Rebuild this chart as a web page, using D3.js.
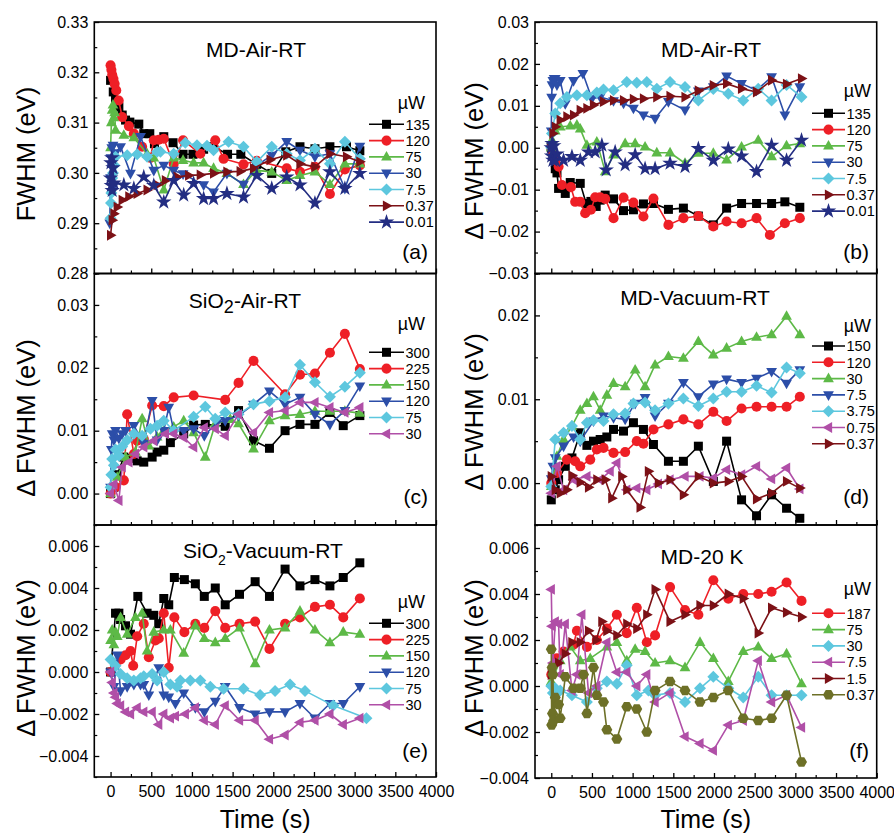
<!DOCTYPE html>
<html>
<head>
<meta charset="utf-8">
<script src="https://cdnjs.cloudflare.com/ajax/libs/d3/7.8.5/d3.min.js"></script>
<style>
  body { margin: 0; background: #fff; }
  svg { display: block; font-family: Arial, "Liberation Sans", sans-serif; }
</style>
</head>
<body>
<svg id="chart" width="894" height="835"></svg>
<script>
// ---------------- data (time s, value eV) ----------------
const timeTicks = [0, 500, 1000, 1500, 2000, 2500, 3000, 3500, 4000];

// (a) MD-Air-RT, FWHM
const a135 = [[0,.3184],[33,.3161],[61,.3144],[102,.3131],[143,.3115],[184,.3105],[237,.3101],[347,.3097],[408,.3078],[482,.3078],[539,.3058],[654,.3072],[768,.306],[891,.3037],[1013,.3037],[1144,.3047],[1266,.3052],[1438,.3037],[1601,.3037],[1797,.3017],[1981,.2999],[2153,.3042],[2328,.3052],[2512,.3048],[2696,.3052],[2900,.3052],[3064,.3044]];
const a120 = [[0,.3214],[10,.3205],[20,.3195],[35,.3187],[50,.3177],[70,.3164],[100,.3144],[143,.3111],[225,.3093],[286,.3078],[388,.3052],[490,.3030],[531,.3065],[592,.3066],[654,.3068],[776,.3018],[891,.3065],[1103,.3038],[1287,.3065],[1389,.3028],[1634,.3017],[1797,.3024],[2165,.3009],[2328,.3002],[2512,.3012],[2696,.2958],[2880,.3007],[3064,.3015]];
const a75 = [[0,.3050],[10,.3100],[20,.3125],[30,.3135],[40,.3110],[50,.3120],[61,.3085],[163,.3075],[286,.3070],[449,.3038],[531,.3030],[654,.2966],[776,.3030],[891,.3025],[1021,.3020],[1144,.3020],[1266,.3009],[1430,.2999],[1634,.2977],[1797,.3005],[1981,.3002],[2165,.2985],[2328,.2995],[2512,.3002],[2696,.2977],[2880,.3018],[3064,.3018]];
const a30 = [[-10,.2900],[0,.2990],[5,.3030],[10,.2985],[15,.3050],[20,.3010],[30,.3055],[40,.2975],[61,.3040],[123,.3052],[245,.2999],[368,.3072],[531,.3005],[654,.3015],[776,.3005],[891,.2998],[1144,.2976],[1266,.2962],[1430,.2999],[1634,.2977],[1797,.3015],[1981,.3035],[2165,.3062],[2328,.3045],[2512,.3032],[2696,.3038],[2880,.2969],[3064,.3053]];
const a7_5 = [[0,.2910],[5,.2940],[10,.2960],[20,.2990],[30,.3000],[45,.3015],[61,.3032],[204,.3035],[327,.3037],[449,.3032],[572,.3042],[613,.3042],[776,.3038],[919,.3060],[1062,.3055],[1185,.3054],[1266,.3045],[1450,.3062],[1634,.3052],[1797,.3022],[1981,.3052],[2165,.3038],[2328,.3025],[2512,.3048],[2696,.3018],[2880,.3062],[3064,.3028]];
const a0_37 = [[0,.2876],[20,.2906],[41,.2919],[82,.2932],[143,.2946],[225,.2953],[327,.2959],[449,.2966],[572,.2976],[674,.2985],[817,.2992],[960,.2995],[1103,.2996],[1266,.2999],[1430,.3002],[1593,.3003],[1757,.3009],[1961,.3026],[2165,.3035],[2328,.3018],[2512,.3012],[2696,.3038],[2900,.3032],[3064,.3022]];
const a0_01 = [[0,.2990],[5,.3020],[10,.2975],[15,.3030],[20,.2965],[30,.3010],[41,.2980],[163,.2976],[286,.2969],[408,.2992],[531,.2975],[654,.2942],[776,.2985],[899,.2956],[1021,.2979],[1144,.2949],[1266,.2949],[1430,.2959],[1634,.2952],[1797,.2995],[1981,.2969],[2165,.2992],[2328,.2976],[2512,.2940],[2696,.3002],[2880,.2969],[3064,.2999]];

// (b) MD-Air-RT, delta FWHM
const b135 = [[0,0],[20,-.0020],[49,-.0050],[70,-.0060],[90,-.0097],[131,-.0095],[172,-.0109],[233,-.0083],[356,-.0085],[429,-.0133],[487,-.0128],[552,-.0140],[601,-.0125],[663,-.0113],[765,-.0122],[888,-.0150],[1010,-.0148],[1133,-.0134],[1256,-.0133],[1440,-.0147],[1624,-.0144],[1808,-.0163],[1992,-.0184],[2155,-.0144],[2339,-.0133],[2523,-.0133],[2708,-.0133],[2871,-.0129],[3055,-.0142]];
const b120 = [[0,0],[20,-.0010],[49,-.0030],[90,-.0045],[131,-.0089],[241,-.0094],[294,-.0129],[356,-.0129],[417,-.0156],[487,-.0148],[540,-.0118],[601,-.0118],[663,-.0122],[765,-.0168],[888,-.0119],[1010,-.0131],[1133,-.0164],[1256,-.0121],[1440,-.0184],[1624,-.0168],[1808,-.0163],[1992,-.0188],[2155,-.0176],[2339,-.0180],[2523,-.0168],[2687,-.0208],[2871,-.0180],[3055,-.0168]];
const b75 = [[0,0],[8,.0018],[49,.0040],[110,.0050],[233,.0052],[315,.0054],[356,.0045],[438,.0006],[560,.0014],[663,-.0057],[765,-.0017],[908,.0010],[1031,.0010],[1153,.0002],[1297,-.0012],[1460,-.0012],[1644,-.0037],[1808,-.0013],[1992,-.0013],[2155,-.0029],[2339,.0002],[2544,.0018],[2708,-.0021],[2892,.0005],[3055,.0010]];
const b30 = [[0,.0040],[5,.0120],[10,.0150],[20,.0160],[35,.0165],[49,.0165],[70,.0150],[110,.0160],[172,.0105],[274,.0160],[389,.0177],[499,.0117],[601,.0121],[765,.0112],[888,.0106],[1010,.0094],[1133,.0078],[1276,.0070],[1440,.0110],[1644,.0090],[1808,.0135],[1992,.0145],[2155,.0171],[2339,.0153],[2523,.0137],[2708,.0169],[2871,.0078],[3055,.0145]];
const b7_5 = [[0,0],[8,.0034],[49,.0082],[110,.0106],[192,.0121],[315,.0125],[438,.0125],[560,.0132],[642,.0139],[765,.0137],[928,.0157],[1051,.0155],[1174,.0157],[1297,.0141],[1460,.0157],[1644,.0145],[1808,.0113],[1992,.0140],[2176,.0129],[2360,.0113],[2544,.0141],[2708,.0113],[2892,.0150],[3076,.0121]];
const b0_37 = [[0,0],[20,.0034],[49,.0050],[110,.0066],[192,.0074],[274,.0078],[356,.0090],[438,.0094],[519,.0102],[642,.0110],[765,.0113],[888,.0113],[1010,.0116],[1133,.0117],[1297,.0121],[1460,.0123],[1644,.0121],[1808,.0136],[1992,.0149],[2155,.0153],[2339,.0141],[2523,.0133],[2708,.0161],[2892,.0152],[3076,.0165]];
const b0_01 = [[0,0],[5,-.0020],[10,.0010],[20,-.0030],[30,.0005],[49,-.0030],[70,-.0015],[151,-.0030],[254,-.0021],[356,-.0030],[458,-.0010],[540,-.0010],[622,.0006],[675,-.0053],[785,-.0010],[908,-.0041],[1031,-.0017],[1153,-.0050],[1276,-.0050],[1460,-.0037],[1644,-.0045],[1808,-.0002],[1992,-.0030],[2176,-.0003],[2339,-.0020],[2523,-.0057],[2708,.0006],[2892,-.0030],[3076,.0018]];

// (c) SiO2-Air-RT
const c300 = [[0,0],[41,.0010],[82,.0030],[163,.0058],[245,.0056],[327,.0052],[408,.0050],[511,.0058],[572,.0066],[654,.0069],[735,.0081],[899,.0095],[1021,.0109],[1164,.0110],[1409,.0107],[1573,.0132],[1757,.0084],[1953,.0072],[2145,.0100],[2328,.0110],[2512,.0110],[2696,.0129],[2860,.0108],[3064,.0124]];
const c225 = [[0,0],[61,.0010],[163,.0021],[204,.0126],[286,.0063],[327,.0084],[408,.0087],[511,.0140],[654,.0139],[776,.0153],[1021,.0156],[1409,.0149],[1573,.0176],[1757,.0211],[2145,.0158],[2328,.0189],[2512,.0191],[2696,.0224],[2880,.0254],[3064,.0198]];
const c150 = [[0,0],[82,.0026],[184,.0058],[306,.0066],[388,.0119],[470,.0076],[572,.0090],[654,.0100],[776,.0106],[899,.0116],[1021,.0097],[1164,.0058],[1287,.0111],[1471,.0118],[1573,.0111],[1757,.0071],[1953,.0116],[2145,.0124],[2328,.0126],[2512,.0131],[2696,.0131],[2880,.0131],[3064,.0128]];
const c120 = [[0,.0010],[10,.0070],[20,.0095],[41,.0085],[61,.0100],[102,.0088],[143,.0095],[184,.0100],[286,.0108],[408,.0080],[511,.0148],[572,.0085],[654,.0100],[715,.0137],[776,.0100],[899,.0100],[1021,.0103],[1152,.0092],[1307,.0113],[1409,.0116],[1573,.0124],[1757,.0142],[1953,.0163],[2145,.0142],[2328,.0153],[2512,.0126],[2696,.0110],[2880,.0132],[3064,.0171]];
const c75 = [[0,.0010],[10,.0030],[20,.0055],[41,.0045],[61,.0070],[102,.0060],[143,.0075],[204,.0085],[286,.0095],[388,.0092],[490,.0103],[572,.0108],[654,.0116],[776,.0100],[1021,.0122],[1164,.0138],[1287,.0119],[1409,.0129],[1573,.0126],[1757,.0142],[1953,.0147],[2145,.0153],[2328,.0205],[2512,.0177],[2696,.0154],[2880,.0170],[3064,.0192]];
const c30 = [[0,0],[41,.0015],[102,-.0011],[143,.0042],[225,.0050],[306,.0063],[408,.0074],[531,.0084],[674,.0095],[776,.0095],[899,.0089],[1021,.0074],[1152,.0105],[1287,.0103],[1409,.0092],[1573,.0126],[1757,.0097],[1953,.0129],[2145,.0132],[2328,.0145],[2512,.0145],[2696,.0137],[2880,.0129],[3064,.0137]];

// (d) MD-Vacuum-RT
const d150 = [[0,-.0020],[49,-.0008],[90,.0004],[172,.0020],[254,.0030],[356,.0060],[438,.0045],[519,.0050],[601,.0052],[683,.0055],[765,.0064],[888,.0062],[1010,.0072],[1133,.0064],[1256,.0046],[1440,.0026],[1624,.0026],[1808,.0044],[1992,.0002],[2155,.0050],[2339,-.0020],[2523,-.0039],[2708,-.0014],[2892,-.0030],[3055,-.0042]];
const d120 = [[0,0],[70,.0012],[192,.0028],[294,.0026],[356,.0020],[479,.0028],[560,.0040],[642,.0042],[765,.0036],[908,.0037],[1051,.0050],[1133,.0047],[1256,.0064],[1440,.0070],[1624,.0076],[1808,.0070],[1992,.0085],[2155,.0074],[2339,.0089],[2523,.0091],[2708,.0091],[2892,.0091],[3055,.0103]];
const d30 = [[0,-.0004],[70,.0032],[151,.0052],[254,.0068],[356,.0087],[438,.0095],[519,.0103],[601,.0087],[683,.0105],[765,.0119],[908,.0115],[1031,.0135],[1153,.0115],[1276,.0141],[1440,.0151],[1624,.0149],[1808,.0169],[1992,.0153],[2155,.0161],[2339,.0169],[2523,.0174],[2708,.0177],[2892,.0199],[3055,.0177]];
const d7_5 = [[0,.0005],[20,.0020],[49,.0030],[151,.0044],[274,.0055],[356,.0050],[519,.0074],[642,.0080],[765,.0078],[908,.0076],[1031,.0095],[1153,.0102],[1276,.0080],[1440,.0095],[1624,.0120],[1808,.0103],[1992,.0118],[2155,.0124],[2339,.0120],[2523,.0125],[2708,.0133],[2892,.0119],[3055,.0135]];
const d3_75 = [[0,-.0004],[49,.0052],[151,.0060],[254,.0068],[356,.0052],[438,.0072],[519,.0075],[642,.0074],[765,.0082],[908,.0083],[1010,.0095],[1153,.0096],[1276,.0087],[1440,.0095],[1624,.0101],[1808,.0092],[1992,.0101],[2155,.0109],[2339,.0109],[2523,.0116],[2708,.0108],[2892,.0138],[3055,.0131]];
const d0_75 = [[0,-.0012],[70,.0020],[151,-.0008],[274,.0004],[438,.0008],[601,.0004],[724,.0014],[806,.0024],[928,-.0008],[1051,-.0006],[1174,-.0008],[1317,-.0001],[1460,.0004],[1644,.0008],[1828,.0008],[1992,.0006],[2155,.0016],[2339,.0010],[2523,.0020],[2708,.0005],[2892,.0018],[3055,-.0007]];
const d0_37 = [[0,.0008],[49,-.0008],[110,-.0012],[192,-.0008],[254,.0009],[356,.0001],[458,-.0005],[560,.0004],[663,.0004],[744,-.0018],[867,.0008],[928,-.0008],[1092,-.0029],[1194,.0014],[1317,0],[1460,.0004],[1624,-.0014],[1808,.0008],[1992,0],[2176,.0002],[2339,.0008],[2523,-.0019],[2708,-.0012],[2892,.0002],[3055,-.0006]];

// (e) SiO2-Vacuum-RT
const e300 = [[0,0],[61,.0028],[102,.0028],[123,.0025],[184,.0022],[245,.0018],[335,.0036],[449,.0028],[531,.0027],[592,.0023],[654,.0035],[715,.0032],[784,.0045],[907,.0044],[1042,.0042],[1152,.0036],[1287,.0040],[1409,.0032],[1585,.0037],[1777,.0043],[1953,.0036],[2145,.0049],[2328,.0041],[2512,.0044],[2696,.0041],[2860,.0045],[3064,.0052]];
const e225 = [[0,0],[61,.0004],[123,.0006],[184,.0008],[245,.0010],[278,.0003],[327,.0017],[408,.0023],[470,.0007],[551,.0015],[592,.0016],[654,.0028],[715,.0002],[784,.0026],[907,.0019],[1042,.0023],[1152,.0021],[1287,.0029],[1409,.0021],[1585,.0023],[1777,.0024],[1953,.0011],[2145,.0023],[2328,.0026],[2512,.0031],[2696,.0032],[2860,.0026],[3064,.0035]];
const e150 = [[0,.0015],[20,.0020],[41,.0013],[61,.0019],[82,.0017],[123,.0026],[204,.0018],[306,.0026],[388,.0028],[449,.0010],[531,.0019],[654,.0020],[735,.0020],[899,.0009],[1042,.0022],[1152,.0016],[1287,.0014],[1409,.0016],[1585,.0021],[1777,.0004],[1953,.0020],[2145,.0021],[2328,.0029],[2512,.0020],[2696,.0014],[2860,.0019],[3064,.0018]];
const e120 = [[0,0],[41,-.0007],[82,.0008],[123,-.0009],[204,-.0007],[286,-.0006],[368,-.0006],[408,-.0006],[470,-.0011],[592,.0002],[654,-.0011],[715,-.0012],[797,-.0015],[899,-.0010],[1042,-.0017],[1152,-.0019],[1287,-.0014],[1409,-.0007],[1585,-.0017],[1777,-.0020],[1953,-.0019],[2145,-.0019],[2328,-.0015],[2512,-.0022],[2696,-.0015],[2860,-.0015],[3064,-.0007]];
const e75 = [[0,.0006],[61,.0003],[123,-.0001],[204,-.0003],[286,-.0004],[368,-.0003],[408,-.0002],[511,-.0001],[572,-.0004],[654,0],[735,-.0006],[817,-.0007],[858,-.0004],[980,-.0004],[1103,-.0004],[1226,-.0007],[1389,-.0008],[1634,-.0008],[1838,-.0011],[2022,-.0009],[2206,-.0006],[2390,-.0009],[2737,-.0016],[3145,-.0022]];
const e30 = [[0,0],[20,-.0005],[41,-.0010],[61,-.0012],[82,-.0015],[123,-.0016],[184,-.0019],[245,-.0020],[327,-.0017],[408,-.0019],[511,-.0019],[592,-.0025],[654,-.0020],[735,-.0022],[797,-.0021],[919,-.0020],[1042,-.0017],[1152,-.0023],[1287,-.0025],[1409,-.0016],[1585,-.0023],[1777,-.0023],[1953,-.0032],[2145,-.0030],[2328,-.0024],[2512,-.0023],[2696,-.0020],[2860,-.0025],[3064,-.0022]];

// (f) MD-20 K
const f187 = [[0,.0005],[70,.0012],[151,.0015],[274,.0018],[315,.0024],[438,.0017],[560,.0020],[683,.0025],[806,.0031],[928,.0023],[1051,.0034],[1174,.0019],[1276,.0022],[1460,.0043],[1644,.0033],[1808,.0031],[1992,.0046],[2176,.0038],[2360,.0040],[2544,.0040],[2708,.0041],[2892,.0045],[3076,.0037]];
const f75 = [[0,.0002],[110,.0011],[233,.0017],[356,.0011],[479,.0012],[683,.0017],[806,.0019],[928,.0011],[1031,.0016],[1153,.0015],[1276,.0010],[1460,.0011],[1644,.0008],[1828,.0019],[1992,.0012],[2176,.0002],[2360,.0015],[2544,.0017],[2708,.0012],[2892,.0014],[3076,.0001]];
const f30 = [[0,0],[20,-.0003],[49,-.0001],[110,-.0002],[254,-.0004],[438,-.0007],[560,-.0001],[683,.0002],[806,.0001],[928,.0009],[1051,-.0004],[1194,-.0002],[1276,-.0004],[1460,-.0003],[1644,-.0007],[1828,-.0001],[1992,.0004],[2176,-.0001],[2360,-.0005],[2544,.0004],[2708,-.0004],[2892,-.0004],[3076,-.0004]];
const f7_5 = [[0,.0042],[8,.0026],[20,.0010],[49,.0028],[90,.0027],[110,.0005],[172,.0027],[254,-.0002],[315,.0005],[376,.0031],[458,-.0003],[560,.0000],[683,.0019],[806,.0006],[928,.0006],[1051,.0000],[1174,.0005],[1276,-.0007],[1460,-.0003],[1644,-.0022],[1828,-.0025],[1992,-.0028],[2176,-.0017],[2360,-.0015],[2544,.0011],[2708,-.0007],[2892,-.0004],[3076,-.0018]];
const f1_5 = [[0,.0005],[90,.0010],[172,.0014],[254,.0019],[356,.0019],[458,.0024],[552,.0020],[622,.0028],[683,.0024],[806,.0022],[928,.0027],[1051,.0025],[1174,.0031],[1276,.0042],[1460,.0028],[1644,.0031],[1828,.0035],[1992,.0035],[2176,.0040],[2360,.0038],[2544,.0023],[2708,.0034],[2892,.0032],[3076,.0030]];
const f0_37 = [[0,.0016],[5,-.0017],[10,.0008],[15,-.0012],[20,.0005],[30,-.0015],[49,-.0005],[90,-.0008],[110,-.0014],[172,.0004],[274,-.0001],[356,-.0001],[397,.0005],[438,-.0012],[519,.0008],[560,-.0004],[642,-.0007],[683,-.0019],[806,-.0023],[928,-.0009],[1051,-.0010],[1174,-.0020],[1276,-.0002],[1460,.0002],[1644,-.0002],[1828,-.0007],[1992,-.0005],[2176,-.0002],[2360,-.0014],[2544,-.0015],[2708,-.0014],[2892,-.0004],[3076,-.0033]];

// legend labels (µW)
const legendA = ["135", "120", "75", "30", "7.5", "0.37", "0.01"];
const legendC = ["300", "225", "150", "120", "75", "30"];
const legendD = ["150", "120", "30", "7.5", "3.75", "0.75", "0.37"];
const legendF = ["187", "75", "30", "7.5", "1.5", "0.37"];

// y tick values
const yTicksA = [0.28, 0.29, 0.30, 0.31, 0.32, 0.33];
const yTicksB = [-0.03, -0.02, -0.01, 0.00, 0.01, 0.02, 0.03];
const yTicksC = [0.00, 0.01, 0.02, 0.03];
const yTicksD = [0.00, 0.01, 0.02];
const yTicksEF = [-0.004, -0.002, 0.000, 0.002, 0.004, 0.006];

// ---------------- styles ----------------
const colors = {
  black: "#000000", red: "#ee1f26", green: "#5db947", blue: "#2c4ea8",
  cyan: "#5dc7de", maroon: "#7c1116", navy: "#232d82", magenta: "#b04fa7", olive: "#6d7027"
};

// marker shapes, a bit larger than the first pass
function markerPath(kind) {
  switch (kind) {
    case "square": return "M-4.5,-4.5H4.5V4.5H-4.5Z";
    case "circle": return d3.symbol(d3.symbolCircle, 80)();
    case "up": return "M0,-6L5.4,3.6L-5.4,3.6Z";
    case "down": return "M0,6L5.4,-3.6L-5.4,-3.6Z";
    case "left": return "M-6,0L3.6,-5.4L3.6,5.4Z";
    case "right": return "M6,0L-3.6,-5.4L-3.6,5.4Z";
    case "diamond": return "M0,-6L6,0L0,6L-6,0Z";
    case "star": return d3.symbol(d3.symbolStar, 75)();
    case "hex": {
      const r = 5.5;
      return "M" + d3.range(6).map(i => {
        const a = Math.PI / 3 * i;
        return [r * Math.cos(a), r * Math.sin(a)].join(",");
      }).join("L") + "Z";
    }
  }
}

const left = {x0: 94.3, x1: 436, lineX0: 369, lineX1: 404, muX: 425, labelX: 428, yLabX: 34.5};
const right = {x0: 535, x1: 876.7, lineX0: 812, lineX1: 845, muX: 871, labelX: 869, yLabX: 482.5};

const panels = [
  {col: left, y0: 22, y1: 273.5, domain: [0.28, 0.33], ticks: yTicksA, fmt: ".2f", minor: 0.005,
   title: [["MD-Air-RT"]], titleX: 256, titleY: 57, letter: "(a)", letterY: 259,
   yLabel: "FWHM (eV)", yLabY: 154, muY: 109, legY: 124.3, legend: legendA,
   series: [[a135, "black", "square"], [a120, "red", "circle"], [a75, "green", "up"], [a30, "blue", "down"],
            [a7_5, "cyan", "diamond"], [a0_37, "maroon", "right"], [a0_01, "navy", "star"]]},
  {col: right, y0: 22, y1: 273.5, domain: [-0.03, 0.03], ticks: yTicksB, fmt: ".2f", minor: 0.005,
   title: [["MD-Air-RT"]], titleX: 711, titleY: 57, letter: "(b)", letterY: 259,
   yLabel: "\u0394 FWHM (eV)", yLabY: 161, muY: 97, legY: 113.3, legend: legendA,
   series: [[b135, "black", "square"], [b120, "red", "circle"], [b75, "green", "up"], [b30, "blue", "down"],
            [b7_5, "cyan", "diamond"], [b0_37, "maroon", "right"], [b0_01, "navy", "star"]]},
  {col: left, y0: 273.5, y1: 525, domain: [-0.005, 0.035], ticks: yTicksC, fmt: ".2f", minor: 0.005,
   title: [["SiO"], ["2", 18, 5], ["-Air-RT", 21, -5]], titleX: 245, titleY: 308, letter: "(c)", letterY: 504,
   yLabel: "\u0394 FWHM (eV)", yLabY: 418, muY: 330, legY: 352.3, legend: legendC,
   series: [[c300, "black", "square"], [c225, "red", "circle"], [c150, "green", "up"], [c120, "blue", "down"],
            [c75, "cyan", "diamond"], [c30, "magenta", "left"]]},
  {col: right, y0: 273.5, y1: 525, domain: [-0.005, 0.025], ticks: yTicksD, fmt: ".2f", minor: 0.005,
   title: [["MD-Vacuum-RT"]], titleX: 695, titleY: 305, letter: "(d)", letterY: 504,
   yLabel: "\u0394 FWHM (eV)", yLabY: 412, muY: 331.7, legY: 346, legend: legendD,
   series: [[d150, "black", "square"], [d120, "red", "circle"], [d30, "green", "up"], [d7_5, "blue", "down"],
            [d3_75, "cyan", "diamond"], [d0_75, "magenta", "left"], [d0_37, "maroon", "right"]]},
  {col: left, y0: 525, y1: 777, domain: [-0.005, 0.007], ticks: yTicksEF, fmt: ".3f", minor: 0.001, bottom: true,
   title: [["SiO"], ["2", 14, 7], ["-Vacuum-RT", 21, -7]], titleX: 263, titleY: 557.7, letter: "(e)", letterY: 757.5,
   yLabel: "\u0394 FWHM (eV)", yLabY: 658, muY: 608, legY: 623.3, legend: legendC,
   series: [[e300, "black", "square"], [e225, "red", "circle"], [e150, "green", "up"], [e120, "blue", "down"],
            [e75, "cyan", "diamond"], [e30, "magenta", "left"]]},
  {col: right, y0: 525, y1: 778, domain: [-0.004, 0.007], ticks: yTicksEF, fmt: ".3f", minor: 0.001, bottom: true,
   title: [["MD-20 K"]], titleX: 702, titleY: 564, letter: "(f)", letterY: 757.5,
   yLabel: "\u0394 FWHM (eV)", yLabY: 658, muY: 595, legY: 613.3, legend: legendF,
   series: [[f187, "red", "circle"], [f75, "green", "up"], [f30, "cyan", "diamond"], [f7_5, "magenta", "left"],
            [f1_5, "maroon", "right"], [f0_37, "olive", "hex"]]}
];

// ---------------- drawing ----------------
const svg = d3.select("#chart");
svg.append("rect").attr("width", 894).attr("height", 835).attr("fill", "#fff");

panels.forEach(p => {
  const c = p.col;
  const x = d3.scaleLinear().domain([-200, 4000]).range([c.x0, c.x1]);
  const y = d3.scaleLinear().domain(p.domain).range([p.y1, p.y0]);
  const g = svg.append("g");

  // y axis (ticks inward)
  const fmt = d3.format(p.fmt);
  g.append("g").attr("transform", `translate(${c.x0},0)`)
    .call(d3.axisLeft(y).tickValues(p.ticks).tickSize(-5).tickSizeOuter(0).tickPadding(6)
      .tickFormat(d => fmt(Math.abs(d) < 1e-9 ? 0 : d)))
    .call(a => a.select(".domain").remove())
    .call(a => a.selectAll("text").attr("font-size", 16).attr("fill", "#000").attr("font-family", "Arial, 'Liberation Sans', sans-serif"))
    .call(a => a.selectAll("line").attr("stroke-width", 1.3));
  const minorY = d3.range(p.domain[0], p.domain[1] + 1e-9, p.minor)
    .filter(v => !p.ticks.some(t => Math.abs(t - v) < 1e-9));
  g.append("g").attr("transform", `translate(${c.x0},0)`)
    .call(d3.axisLeft(y).tickValues(minorY).tickSize(-3).tickSizeOuter(0).tickFormat(""))
    .call(a => a.select(".domain").remove())
    .call(a => a.selectAll("line").attr("stroke-width", 1.2));

  // x axis (ticks inward)
  g.append("g").attr("transform", `translate(0,${p.y1})`)
    .call(d3.axisBottom(x).tickValues(timeTicks).tickSize(-5).tickSizeOuter(0).tickPadding(8.5)
      .tickFormat(p.bottom ? d3.format("d") : ""))
    .call(a => a.select(".domain").remove())
    .call(a => a.selectAll("text").attr("font-size", 16).attr("fill", "#000").attr("font-family", "Arial, 'Liberation Sans', sans-serif"))
    .call(a => a.selectAll("line").attr("stroke-width", 1.3));
  g.append("g").attr("transform", `translate(0,${p.y1})`)
    .call(d3.axisBottom(x).tickValues(d3.range(250, 4000, 500)).tickSize(-3).tickSizeOuter(0).tickFormat(""))
    .call(a => a.select(".domain").remove())
    .call(a => a.selectAll("line").attr("stroke-width", 1.2));

  // frame
  g.append("rect").attr("x", c.x0).attr("y", p.y0)
    .attr("width", c.x1 - c.x0).attr("height", p.y1 - p.y0)
    .attr("fill", "none").attr("stroke", "#000").attr("stroke-width", 1.6);

  // series
  const line = d3.line().x(d => x(d[0])).y(d => y(d[1]));
  p.series.forEach(([data, col, mk]) => {
    const s = g.append("g");
    s.append("path").attr("d", line(data)).attr("fill", "none")
      .attr("stroke", colors[col]).attr("stroke-width", 1.6).attr("stroke-linejoin", "round");
    s.selectAll("path.m").data(data).join("path").attr("class", "m")
      .attr("d", markerPath(mk))
      .attr("transform", d => `translate(${x(d[0])},${y(d[1])})`)
      .attr("fill", colors[col]);
  });

  // title
  const t = g.append("text").attr("x", p.titleX).attr("y", p.titleY)
    .attr("text-anchor", "middle").attr("font-size", 21).attr("fill", "#000");
  p.title.forEach(([txt, fs, dy]) => {
    const ts = t.append("tspan").text(txt);
    if (fs) ts.attr("font-size", fs);
    if (dy) ts.attr("dy", dy);
  });

  // panel letter
  g.append("text").attr("x", c.labelX).attr("y", p.letterY)
    .attr("text-anchor", "end").attr("font-size", 21).text(p.letter);

  // y-axis title
  g.append("text")
    .attr("transform", `translate(${c.yLabX},${p.yLabY}) rotate(-90)`)
    .attr("text-anchor", "middle").attr("font-size", 25.5).text(p.yLabel);

  // x-axis title
  if (p.bottom) {
    g.append("text").attr("x", (c.x0 + c.x1) / 2).attr("y", 828)
      .attr("text-anchor", "middle").attr("font-size", 25).text("Time (s)");
  }

  // legend
  g.append("text").attr("x", c.muX).attr("y", p.muY).attr("text-anchor", "end")
    .attr("font-size", 18).text("\u00b5W");
  p.series.forEach(([data, col, mk], i) => {
    const ly = p.legY + i * 16.3;
    g.append("line").attr("x1", c.lineX0).attr("x2", c.lineX1).attr("y1", ly).attr("y2", ly)
      .attr("stroke", colors[col]).attr("stroke-width", 1.6);
    g.append("path").attr("d", markerPath(mk))
      .attr("transform", `translate(${(c.lineX0 + c.lineX1) / 2},${ly})`).attr("fill", colors[col]);
    g.append("text").attr("x", c.lineX1 + 1.5).attr("y", ly).attr("dy", "0.36em")
      .attr("font-size", 14.5).text(p.legend[i]);
  });
});
</script>
</body>
</html>
